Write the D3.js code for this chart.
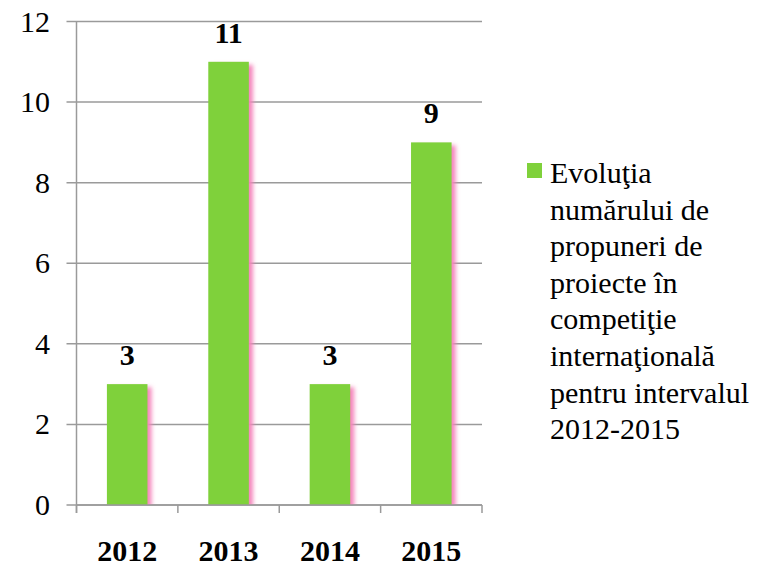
<!DOCTYPE html>
<html>
<head>
<meta charset="utf-8">
<script src="https://cdn.jsdelivr.net/npm/d3@7"></script>
</head>
<body style="margin:0">
<div id="picture"></div>
<script>
const years  = ["2012", "2013", "2014", "2015"]
	, values = [3, 11, 3, 9]
	, yTicks = [0, 2, 4, 6, 8, 10, 12]
	, legendLines = ["Evoluţia", "numărului de", "propuneri de", "proiecte în",
		"competiţie", "internaţională", "pentru intervalul", "2012-2015"];

const width  = 772
	, height = 566
	, plot   = { left: 76.5, right: 482, top: 21.5, bottom: 505 }
	, green  = "#7fd13b"
	, grey   = "#9a9a9a"
	, serif  = "'Times New Roman'";

const svg = d3.select("#picture")
	.append("svg")
		.attr("width", width)
		.attr("height", height);

const defs = svg.append("defs");
defs.append("filter")
	.attr("id", "shade")
	.attr("x", "-50%").attr("y", "-10%")
	.attr("width", "200%").attr("height", "120%")
	.append("feGaussianBlur").attr("stdDeviation", 2.2);

defs.append("clipPath").attr("id", "plotClip")
	.append("rect")
		.attr("x", plot.left).attr("y", 0)
		.attr("width", plot.right - plot.left + 20)
		.attr("height", plot.bottom);

const x = d3.scaleBand()
	.domain(years)
	.range([plot.left, plot.right])
	.paddingInner(0.6)
	.paddingOuter(0.3);

const y = d3.scaleLinear()
	.domain([0, 12])
	.range([plot.bottom, plot.top]);

// gridlines (with the little ticks left of the axis)
svg.append("g")
	.selectAll("line")
	.data(yTicks)
	.join("line")
		.attr("x1", plot.left - 10)
		.attr("x2", plot.right)
		.attr("y1", d => y(d))
		.attr("y2", d => y(d))
		.attr("stroke", grey).attr("stroke-width", 1.5);

// y axis
svg.append("line")
	.attr("x1", plot.left).attr("x2", plot.left)
	.attr("y1", plot.top).attr("y2", plot.bottom + 8)
	.attr("stroke", grey).attr("stroke-width", 1.5);

svg.append("g")
	.selectAll("text")
	.data(yTicks)
	.join("text")
		.attr("x", 50)
		.attr("y", d => y(d) + 10)
		.attr("text-anchor", "end")
		.style("font-family", serif)
		.style("font-size", "30px")
		.text(d => d);

// x axis ticks at category boundaries
svg.append("g")
	.selectAll("line")
	.data(d3.range(years.length + 1).map(i => plot.left + i * (plot.right - plot.left) / years.length))
	.join("line")
		.attr("x1", d => d).attr("x2", d => d)
		.attr("y1", plot.bottom).attr("y2", plot.bottom + 8)
		.attr("stroke", grey).attr("stroke-width", 1.5);

// pink shadows
svg.append("g")
	.attr("clip-path", "url(#plotClip)")
	.selectAll("rect")
	.data(values)
	.join("rect")
		.attr("x", (d, i) => x(years[i]) + 4)
		.attr("y", d => y(d) + 3)
		.attr("width", x.bandwidth())
		.attr("height", d => plot.bottom - y(d))
		.attr("fill", "#f585bb")
		.attr("filter", "url(#shade)");

// bars
svg.append("g")
	.selectAll("rect")
	.data(values)
	.join("rect")
		.attr("x", (d, i) => x(years[i]))
		.attr("y", d => y(d))
		.attr("width", x.bandwidth())
		.attr("height", d => plot.bottom - y(d))
		.attr("fill", green);

// x axis line
svg.append("line")
	.attr("x1", plot.left).attr("x2", plot.right)
	.attr("y1", plot.bottom).attr("y2", plot.bottom)
	.attr("stroke", grey).attr("stroke-width", 1.5);

// value labels
svg.append("g")
	.selectAll("text")
	.data(values)
	.join("text")
		.attr("x", (d, i) => x(years[i]) + x.bandwidth() / 2)
		.attr("y", d => y(d) - 19)
		.attr("text-anchor", "middle")
		.style("font-family", serif)
		.style("font-size", "30px")
		.style("font-weight", "bold")
		.text(d => d);

// category labels
svg.append("g")
	.selectAll("text")
	.data(years)
	.join("text")
		.attr("x", d => x(d) + x.bandwidth() / 2)
		.attr("y", 561)
		.attr("text-anchor", "middle")
		.style("font-family", serif)
		.style("font-size", "30px")
		.style("font-weight", "bold")
		.text(d => d);

// legend
svg.append("rect")
	.attr("x", 527).attr("y", 163)
	.attr("width", 15).attr("height", 15)
	.attr("fill", green);

svg.append("g")
	.selectAll("text")
	.data(legendLines)
	.join("text")
		.attr("x", 550)
		.attr("y", (d, i) => 183 + i * 36.6)
		.style("font-family", serif)
		.style("font-size", "30px")
		.text(d => d);
</script>
</body>
</html>
